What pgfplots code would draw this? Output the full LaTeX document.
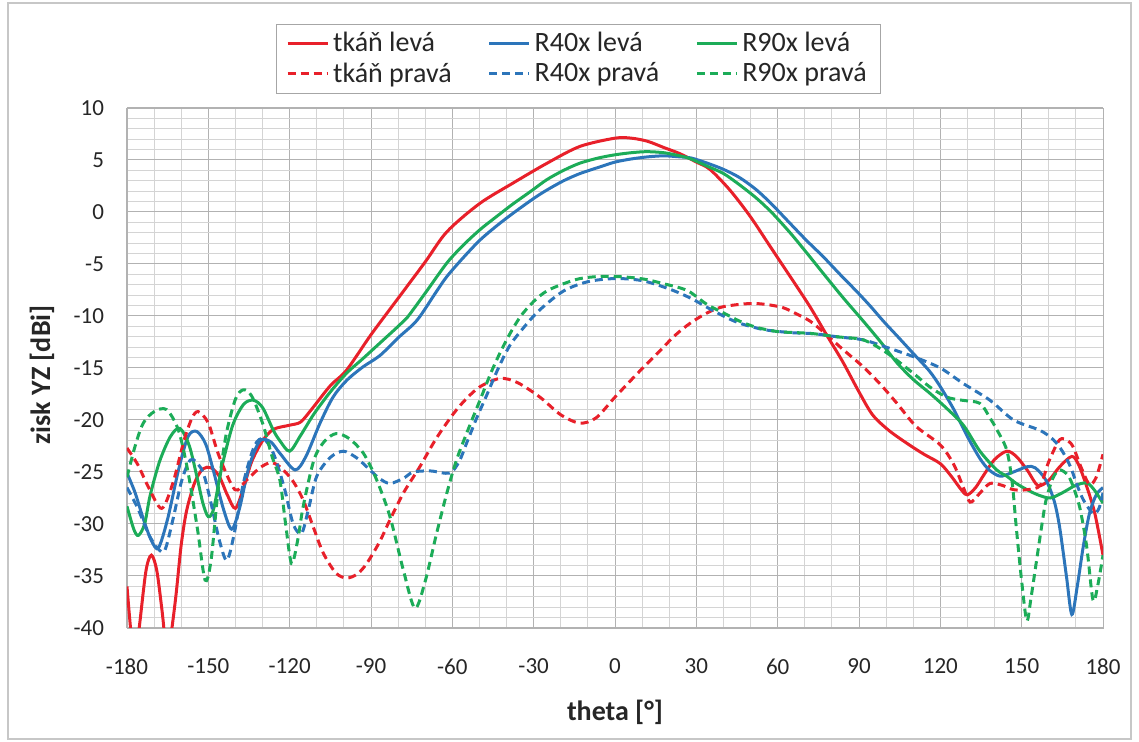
\documentclass[border=0pt]{standalone}
\usepackage{fontspec}
\setmainfont{Carlito}
\usepackage{pgfplots}
\pgfplotsset{compat=1.18}
\usepackage{pgfplotstable}

\definecolor{cred}{RGB}{232,32,42}
\definecolor{cblue}{RGB}{44,117,186}
\definecolor{cgreen}{RGB}{28,172,88}

% tkan leva (red solid)
\pgfplotstableread{
x y
-180 -36
-178.5 -40.5
-177 -43
-175.5 -40
-173 -34.5
-171 -33
-169 -34.5
-167 -38.5
-165.5 -42
-164 -41
-162 -37
-160 -32
-158 -28.7
-155 -26
-152 -24.7
-149 -24.6
-146 -25.4
-143 -27.2
-140 -28.5
-137 -26.5
-134 -24
-130 -22
-126 -20.9
-120 -20.5
-116 -20.2
-112 -19
-105 -16.7
-99 -15.2
-90 -11.8
-80 -8.3
-70 -4.8
-62 -1.9
-50 0.8
-37.5 2.8
-25 4.7
-13 6.3
0 7.1
6 7.1
12 6.8
18 6.2
24 5.6
30 4.8
35 4.1
42.4 2.1
49.8 -0.4
57.2 -3.3
64.6 -6.2
71.9 -9.1
78 -11.8
84 -14.4
90 -17.3
95 -19.5
101 -21
108 -22.3
114 -23.3
120 -24.2
124 -25.4
128 -26.8
130 -27.2
133 -26.5
136 -25.3
140 -23.8
144.5 -23
148 -23.5
152 -24.8
156 -26.3
160 -25.8
164 -24.5
168.5 -23.5
171 -24.3
174 -26.4
177 -29
180 -33
}\tkanL

% tkan prava (red dashed)
\pgfplotstableread{
x y
-180 -22.7
-176 -24.3
-172 -26.5
-167.2 -28.5
-163 -26
-159 -22
-156 -19.8
-153.7 -19.2
-150 -20.3
-146 -23.5
-140.2 -26.7
-136 -25.8
-131 -24.6
-127 -24.1
-123.6 -24.5
-119 -25.8
-115 -27.7
-111 -30.5
-107.6 -32.8
-103 -34.7
-99 -35.2
-95 -34.8
-91.6 -33.8
-87 -31.8
-83 -29.6
-78 -27
-72 -24.5
-66 -21.8
-59.6 -19.4
-55 -18
-49.8 -16.8
-42.4 -16
-36 -16.4
-27.7 -17.8
-20 -19.5
-13 -20.3
-7 -19.8
0 -17.8
8 -15.6
16 -13.5
22 -11.9
27.7 -10.7
34 -9.7
40 -9.1
49.8 -8.8
56 -8.9
62 -9.2
67 -9.8
72 -10.5
76.7 -11.5
84 -13.2
91.6 -14.9
98 -16.6
104 -18.4
111 -20.6
120 -22.4
125 -24.3
128.5 -26.5
131 -27.9
134 -27.2
138.3 -26.1
143 -26.3
147 -26.7
152 -26.7
156.8 -26.3
160 -24
164 -21.9
167 -22
169 -22.6
172 -24.6
175 -26.2
177.5 -25.5
180 -23.3
}\tkanP

% R40x leva (blue solid)
\pgfplotstableread{
x y
-180 -25.1
-177 -27
-174 -29.5
-171 -31.6
-168.4 -32.3
-165 -29.5
-161 -24.8
-157.5 -21.6
-154.3 -21.1
-151 -22.3
-148 -25
-144.5 -28.5
-141.4 -30.5
-138.5 -28.5
-135 -24.5
-131 -22
-127 -22.1
-123.6 -23.2
-118 -24.8
-114 -23.5
-108.8 -20.3
-104 -17.8
-99 -16.2
-93 -14.9
-86.7 -13.8
-80 -12.1
-73 -10.4
-66 -7.7
-62 -6.2
-56 -4.4
-49.8 -2.7
-43.5 -1.3
-37.5 -0.1
-30 1.3
-25.2 2.1
-19 3
-12.9 3.7
-6 4.3
0 4.8
6 5.1
12 5.3
18 5.4
24 5.3
28 5.2
34 4.7
40 4.1
46 3.3
52.3 2.1
58 0.7
64.6 -1.1
70.5 -2.7
76.8 -4.3
83 -6.0
89 -7.6
94 -9.0
99 -10.5
104 -11.9
110 -13.6
116 -15.3
120 -16.8
125 -19
130 -21.6
134.6 -23.7
138 -24.8
142 -25.4
146 -25.1
151.9 -24.5
155 -24.6
159 -25.8
162 -27.8
164 -30.3
166.5 -35
168.5 -38.7
170.5 -36
172.7 -32.2
175 -29
177.5 -27.2
180 -26.5
}\rfortyL

% R40x prava (blue dashed)
\pgfplotstableread{
x y
-180 -26.5
-176 -28.5
-172 -31
-168.5 -32.4
-166 -32.5
-163 -29.5
-160 -26
-157.5 -24.2
-155.6 -23.8
-152 -25
-149 -28
-146 -31.5
-143.2 -33.5
-140.5 -31
-137 -26
-133 -22.5
-129.7 -21.8
-126 -23.2
-122 -26.5
-118.7 -30
-115.6 -30.9
-113 -28.5
-110 -25.4
-105 -23.6
-100.2 -23
-95.5 -23.6
-91.6 -24.5
-87 -25.6
-83 -26.1
-78 -25.6
-74.4 -25
-68 -24.9
-61 -25.1
-57.5 -24
-54.7 -22.2
-51 -19.8
-47.3 -17.6
-43 -15
-38.7 -12.8
-33 -10.9
-27.7 -9.4
-19 -7.6
-10 -6.7
0 -6.4
10 -6.6
20 -7.4
28 -8.3
36.3 -9.5
45 -10.6
54.7 -11.3
65 -11.6
73.2 -11.7
82 -12
91.6 -12.3
100 -13
110 -13.9
120 -15
128.5 -16.5
138.3 -18.1
147 -20
156.8 -21
161.7 -21.9
165 -23
168 -24.5
170.5 -26.3
172.8 -27.7
176.4 -29
178.5 -28.5
180 -27
}\rfortyP

% R90x leva (green solid)
\pgfplotstableread{
x y
-180 -28.3
-177.5 -30.5
-175.8 -31.1
-173.5 -30
-171.5 -27.3
-168 -24
-164 -21.6
-160.5 -20.8
-157 -22.5
-154 -25.7
-152 -28
-150 -29.3
-148 -28.5
-145 -24.5
-141 -20.5
-137 -18.5
-133.4 -18.1
-130 -18.8
-126 -21
-123.6 -22
-120 -23
-116 -21.5
-111 -19.4
-105 -17.3
-99 -15.5
-93 -14.1
-86.7 -12.6
-80 -11
-76.8 -10.2
-70 -7.8
-62 -4.9
-56 -3.2
-49.8 -1.7
-43.5 -0.4
-37.5 0.8
-31 2
-25.2 3.1
-19 4
-12.9 4.7
-6 5.2
0 5.5
6 5.7
11.7 5.8
18 5.7
24 5.4
28 5.1
34 4.4
40 3.7
46 2.6
52.3 1.3
58 -0.1
64.6 -2
70 -3.7
76.8 -5.9
84 -8.2
91.6 -10.5
98 -12.5
104 -14.5
110 -16.1
116 -17.4
122 -18.8
128.5 -20.5
134.6 -23
140.8 -24.8
144.5 -25.4
148 -26.1
152 -26.7
156 -27.2
160.5 -27.5
165 -27
169 -26.4
172 -26.1
174.5 -26.1
177 -26.8
180 -28
}\rninetyL

% R90x prava (green dashed)
\pgfplotstableread{
x y
-180 -25.5
-177 -22.5
-174 -20.3
-170 -19.2
-165.4 -19
-161 -21
-157.5 -25
-154 -30.5
-151.2 -35.4
-149 -33.5
-146.5 -27
-143.5 -21.5
-140 -18
-137.1 -17.1
-134 -17.7
-130 -20.3
-126.5 -23.5
-123.6 -25.8
-121.5 -30
-119.3 -33.8
-117 -31.5
-115 -28.3
-111 -23.8
-107 -22
-102.7 -21.3
-98 -21.8
-92.8 -23.2
-88 -25.7
-83 -29.3
-78 -34.5
-73.8 -38.1
-70 -35.5
-65.8 -30.9
-62 -27
-58.4 -23.8
-54 -20.8
-49.8 -18.1
-45 -15
-40 -12.3
-35 -10.1
-30 -8.6
-25.2 -7.6
-19 -6.9
-12.9 -6.4
-6 -6.2
0 -6.2
6 -6.3
11.7 -6.5
18 -6.9
24 -7.3
27.7 -7.7
34 -8.9
40 -9.7
46 -10.5
52.3 -11.1
60 -11.5
67 -11.6
73.2 -11.7
82 -12
91.6 -12.3
100 -13.5
110 -15.5
116 -16.8
122.4 -17.8
128 -18.1
134.6 -18.4
138.3 -19.8
141 -21
144.5 -22.9
146.5 -26
148 -30.3
150 -35.5
151.9 -39.3
153.5 -37
155.5 -33.5
157.5 -30
159 -27.7
161.5 -25.6
164 -24.8
167 -25.3
169 -26.4
171.5 -28.5
174 -32.2
176.3 -37.3
178 -36
180 -33
}\rninetyP

\begin{document}
\begin{tikzpicture}
\path (0,0) rectangle (569.5pt,371pt);
\draw[black!22, line width=0.9pt] (4pt,1.5pt) rectangle (565.5pt,369.5pt);
\begin{axis}[
  at={(63.5pt,57pt)}, anchor=south west,
  scale only axis, width=488pt, height=260pt,
  xmin=-180, xmax=180, ymin=-40, ymax=10,
  xtick={-180,-150,...,180}, ytick={-40,-35,...,10},
  minor x tick num=2, minor y tick num=4,
  grid=both,
  major grid style={black!30, line width=0.5pt},
  minor grid style={black!17, line width=0.5pt},
  axis line style={black!30},
  major tick length=0pt, minor tick length=0pt,
  tick label style={font=\fontsize{11.5}{13}\selectfont, text=black!85},
  /pgf/number format/assume math mode=true,
  xticklabel style={yshift=-12pt},
  yticklabel style={xshift=-8pt},
  xlabel={theta [°]}, ylabel={zisk YZ [dBi]},
  label style={font=\fontsize{14}{16}\selectfont\bfseries, text=black!85},
  xlabel style={at={(axis description cs:0.5,-0.1615)}, anchor=center},
  ylabel style={at={(axis description cs:-0.087,0.487)}, anchor=center},
  legend columns=3,
  legend cell align=left,
  legend image code/.code={\draw[#1] (0pt,0pt) -- (20pt,0pt);},
  legend style={at={(0.4626,1.095)}, anchor=center, draw=black!35,
    font=\fontsize{14}{16}\selectfont, text=black!85,
    /tikz/every even column/.append style={column sep=16pt},
    row sep=0pt, inner xsep=5pt, inner ysep=2pt},
  every axis plot/.append style={line width=1.5pt, smooth},
]
\addplot[cred] table {\tkanL};
\addlegendentry{tkáň levá}
\addplot[cblue] table {\rfortyL};
\addlegendentry{R40x levá}
\addplot[cgreen] table {\rninetyL};
\addlegendentry{R90x levá}
\addplot[cred, dash pattern=on 4pt off 2.5pt] table {\tkanP};
\addlegendentry{tkáň pravá}
\addplot[cblue, dash pattern=on 4pt off 2.5pt] table {\rfortyP};
\addlegendentry{R40x pravá}
\addplot[cgreen, dash pattern=on 4pt off 2.5pt] table {\rninetyP};
\addlegendentry{R90x pravá}
\end{axis}
\end{tikzpicture}
\end{document}
